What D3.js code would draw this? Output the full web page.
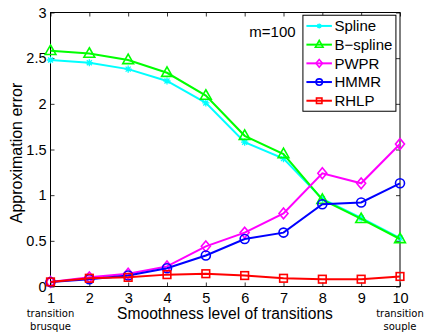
<!DOCTYPE html>
<html>
<head>
<meta charset="utf-8">
<script src="https://cdn.jsdelivr.net/npm/d3@7"></script>
<style>
  body { margin: 0; background: #fff; }
  svg { display: block; font-family: "Liberation Sans", Arial, sans-serif; }
</style>
</head>
<body>
<div id="chart"></div>
<script>
// smoothness levels 1..10
const levels = [1, 2, 3, 4, 5, 6, 7, 8, 9, 10];
const spline  = [2.48, 2.45, 2.38, 2.25, 2.01, 1.58, 1.40, 0.96, 0.75, 0.53];
const bspline = [2.58, 2.55, 2.48, 2.34, 2.09, 1.65, 1.45, 0.95, 0.74, 0.52];
const pwpr    = [0.05, 0.10, 0.14, 0.22, 0.44, 0.59, 0.80, 1.24, 1.13, 1.56];
const hmmr    = [0.05, 0.08, 0.12, 0.20, 0.34, 0.52, 0.59, 0.90, 0.92, 1.13];
const rhlp    = [0.05, 0.09, 0.10, 0.13, 0.14, 0.12, 0.09, 0.08, 0.08, 0.11];
const yTicks = [0, 0.5, 1, 1.5, 2, 2.5, 3];

const series = [
    {name: "Spline",   values: spline,  color: "#00ffff", marker: "star"},
    {name: "B\u2212spline", values: bspline, color: "#00ff00", marker: "triangle"},
    {name: "PWPR",     values: pwpr,    color: "#ff00ff", marker: "diamond"},
    {name: "HMMR",     values: hmmr,    color: "#0000ff", marker: "circle"},
    {name: "RHLP",     values: rhlp,    color: "#ff0000", marker: "square"}
];

const W = 436, H = 334;
const margin = {top: 12.5, right: 36, bottom: 47.5, left: 50.5};
const width = W - margin.left - margin.right;
const height = H - margin.top - margin.bottom;

const svg = d3.select("#chart").append("svg")
    .attr("width", W)
    .attr("height", H);

const g = svg.append("g")
    .attr("transform", `translate(${margin.left},${margin.top})`);

const x = d3.scaleLinear().domain([1, 10]).range([0, width]);
const y = d3.scaleLinear().domain([0, 3]).range([height, 0]);

// axes, ticks pointing inward like matlab
const tickLen = 4;
g.append("g")
    .attr("transform", `translate(0,${height})`)
    .call(d3.axisBottom(x).tickValues(levels).tickSize(-tickLen).tickPadding(6).tickFormat(d3.format("d")))
    .call(a => a.select(".domain").remove());
g.append("g")
    .call(d3.axisTop(x).tickValues(levels).tickSize(-tickLen).tickFormat(""))
    .call(a => a.select(".domain").remove());
g.append("g")
    .call(d3.axisLeft(y).tickValues(yTicks).tickSize(-tickLen).tickPadding(4).tickFormat(d => d))
    .call(a => a.select(".domain").remove());
g.append("g")
    .attr("transform", `translate(${width},0)`)
    .call(d3.axisRight(y).tickValues(yTicks).tickSize(-tickLen).tickFormat(""))
    .call(a => a.select(".domain").remove());

g.selectAll(".tick line").attr("stroke", "#000").attr("stroke-width", 0.8);
g.selectAll(".tick text")
    .attr("fill", "#000")
    .style("font-size", "14.5px")
    .style("font-family", "Liberation Sans, Arial, sans-serif");

g.append("rect")
    .attr("width", width)
    .attr("height", height)
    .attr("fill", "none")
    .attr("stroke", "#000")
    .attr("stroke-width", 1);

function drawMarker(sel, type, color, size) {
    const s = size;
    if (type === "circle") {
        sel.append("circle").attr("r", s).attr("fill", "none").attr("stroke", color).attr("stroke-width", 1.6);
    } else if (type === "square") {
        sel.append("rect").attr("x", -s * 0.85).attr("y", -s * 0.85).attr("width", s * 1.7).attr("height", s * 1.7)
            .attr("fill", "none").attr("stroke", color).attr("stroke-width", 1.6);
    } else if (type === "diamond") {
        sel.append("path").attr("d", `M0,${-s * 1.2}L${s},0L0,${s * 1.2}L${-s},0Z`)
            .attr("fill", "none").attr("stroke", color).attr("stroke-width", 1.6);
    } else if (type === "triangle") {
        sel.append("path").attr("d", `M0,${-s * 1.3}L${s * 1.2},${s * 0.8}L${-s * 1.2},${s * 0.8}Z`)
            .attr("fill", "none").attr("stroke", color).attr("stroke-width", 1.6);
    } else if (type === "star") {
        const r = s * 0.8;
        sel.append("path")
            .attr("d", `M${-r},0L${r},0M0,${-r}L0,${r}M${-r * 0.7},${-r * 0.7}L${r * 0.7},${r * 0.7}M${-r * 0.7},${r * 0.7}L${r * 0.7},${-r * 0.7}`)
            .attr("stroke", color).attr("stroke-width", 1.3);
    }
}

const line = d3.line()
    .x((d, i) => x(levels[i]))
    .y(d => y(d));

series.forEach(s => {
    g.append("path")
        .datum(s.values)
        .attr("d", line)
        .attr("fill", "none")
        .attr("stroke", s.color)
        .attr("stroke-width", 2);
    g.selectAll(null)
        .data(s.values)
        .enter()
        .append("g")
        .attr("transform", (d, i) => `translate(${x(levels[i])},${y(d)})`)
        .each(function() { drawMarker(d3.select(this), s.marker, s.color, 4.5); });
});

// m=100 annotation
g.append("text")
    .attr("x", x(6.12))
    .attr("y", y(2.73))
    .style("font-size", "15px")
    .text("m=100");

// legend
const legend = g.append("g").attr("transform", `translate(${x(7.5)},${y(2.97)})`);
legend.append("rect")
    .attr("width", 93)
    .attr("height", 96)
    .attr("fill", "#fff")
    .attr("stroke", "#000")
    .attr("stroke-width", 1);
series.forEach((s, i) => {
    const row = legend.append("g").attr("transform", `translate(0,${10.7 + i * 18.7})`);
    row.append("line")
        .attr("x1", 3.5).attr("x2", 29)
        .attr("stroke", s.color).attr("stroke-width", 2);
    const m = row.append("g").attr("transform", "translate(16.3,0)");
    drawMarker(m, s.marker, s.color, 3.2);
    row.append("text")
        .attr("x", 31.5)
        .attr("dy", "0.36em")
        .style("font-size", "15px")
        .text(s.name);
});

// axis labels
svg.append("text")
    .attr("x", 225)
    .attr("y", 318.5)
    .attr("text-anchor", "middle")
    .style("font-size", "15.6px")
    .text("Smoothness level of transitions");

svg.append("text")
    .attr("transform", `translate(21.5,153) rotate(-90)`)
    .attr("text-anchor", "middle")
    .style("font-size", "16px")
    .text("Approximation error");

// transition notes under first and last ticks
const notes = [["transition", "brusque", 1], ["transition", "souple", 10]];
notes.forEach(n => {
    const t = svg.append("text")
        .attr("text-anchor", "middle")
        .style("font-family", "DejaVu Sans, sans-serif")
        .style("font-size", "10px");
    t.append("tspan").attr("x", margin.left + x(n[2])).attr("y", 317).text(n[0]);
    t.append("tspan").attr("x", margin.left + x(n[2])).attr("y", 330).text(n[1]);
});
</script>
</body>
</html>
